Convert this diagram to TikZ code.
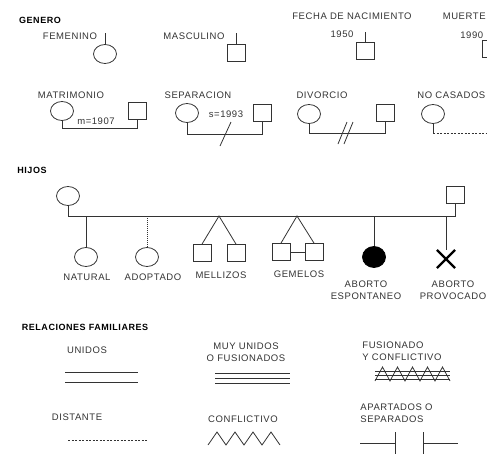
\documentclass[tikz,border=0pt]{standalone}
\usepackage{fontspec}
\setmainfont[LetterSpace=6]{Liberation Sans}
\usetikzlibrary{shapes.geometric,shapes.misc}

\begin{document}
\begin{tikzpicture}[x=1pt,y=-1pt,line width=0.8pt,
  ln/.style={draw=black!80},
  fem/.style={ellipse,draw=black!80,minimum width=23pt,minimum height=19pt,inner sep=0pt},
  masc/.style={rectangle,draw=black!80,minimum width=18pt,minimum height=17pt,inner sep=0pt},
  lbl/.style={font=\fontsize{9.5}{12}\selectfont,text=black!80,inner sep=0pt},
  hdr/.style={font=\bfseries\fontsize{9}{11}\selectfont,inner sep=0pt},
]
\useasboundingbox (0,0) rectangle (487,453);
\clip (0,0) rectangle (487,453);

% ---------- GENERO ----------
\node[hdr] (h-gen) at (40,20) {GENERO};
\node[lbl] (t-fem) at (70,36) {FEMENINO};
\node[fem] (fem) at (105,54) {};
\coordinate (fem-top) at (105,33);
\draw[ln] (fem-top) -- (fem.north);

\node[lbl] (t-masc) at (194,36) {MASCULINO};
\node[masc] (masc) at (236,53) {};
\coordinate (masc-top) at (236,33);
\draw[ln] (masc-top) -- (masc.north);

\node[lbl] (t-nac) at (352,16) {FECHA DE NACIMIENTO};
\node[lbl] (t-1950) at (342,34) {1950};
\node[masc] (nac) at (365,51) {};
\coordinate (nac-top) at (365,32);
\draw[ln] (nac-top) -- (nac.north);

\node[lbl,anchor=east] (t-muerte) at (486,16) {MUERTE};
\node[lbl,anchor=west] (t-1990) at (460,35) {1990};
\node[masc] (muerte) at (491,49) {};
\coordinate (muerte-top) at (491,32);
\draw[ln] (muerte-top) -- (muerte.north);

% ---------- PAREJAS ----------
\node[lbl] (t-mat) at (71,95) {MATRIMONIO};
\node[fem] (mat-f) at (62,111) {};
\node[masc] (mat-m) at (137,111) {};
\node[lbl] (t-m1907) at (96,121) {m=1907};
\draw[ln] (mat-f.south) -- (mat-f.south |- 0,128) -| (mat-m.south);

\node[lbl] (t-sep) at (198,95) {SEPARACION};
\node[fem] (sep-f) at (187,113) {};
\node[masc] (sep-m) at (262,113) {};
\node[lbl] (t-s1993) at (226,114) {s=1993};
\draw[ln] (sep-f.south) -- (sep-f.south |- 0,134) -| (sep-m.south);
\coordinate (sep-a) at (220,146);
\coordinate (sep-b) at (231,122);
\draw[ln] (sep-a) -- (sep-b);

\node[lbl] (t-div) at (322,95) {DIVORCIO};
\node[fem] (div-f) at (309,114) {};
\node[masc] (div-m) at (385,113) {};
\draw[ln] (div-f.south) -- (div-f.south |- 0,133) -| (div-m.south);
\coordinate (div-a1) at (338,144);
\coordinate (div-b1) at (347,122);
\coordinate (div-a2) at (344,144);
\coordinate (div-b2) at (353,122);
\draw[ln] (div-a1) -- (div-b1) (div-a2) -- (div-b2);

\node[lbl,anchor=west] (t-nocas) at (417,95) {NO CASADOS};
\node[fem] (nocas-f) at (433,114) {};
\coordinate (nocas-end) at (495,133);
\draw[ln] (nocas-f.south) -- (nocas-f.south |- nocas-end);
\draw[ln,dash pattern=on 2pt off 1.5pt] (nocas-f.south |- nocas-end) -- (nocas-end);

% ---------- HIJOS ----------
\node[hdr] (h-hijos) at (32,170) {HIJOS};
\node[fem] (par-f) at (68,196) {};
\node[masc] (par-m) at (455,195) {};
\coordinate (sib) at (0,216);
\draw[ln] (par-f.south) |- (par-m.south |- sib) -- (par-m.south);

\node[fem] (nat) at (86,257) {};
\draw[ln] (nat.north) -- (nat.north |- sib);
\node[lbl] (t-nat) at (87,277) {NATURAL};

\node[fem] (adop) at (147,257) {};
\draw[ln,dash pattern=on 1pt off 1pt] (adop.north) -- (adop.north |- sib);
\node[lbl] (t-adop) at (153,277) {ADOPTADO};

\coordinate (mel-apex) at (219,216);
\node[masc] (mel1) at (202,253) {};
\node[masc] (mel2) at (236,253) {};
\draw[ln] (mel1.north) -- (mel-apex) -- (mel2.north);
\node[lbl] (t-mel) at (221,275) {MELLIZOS};

\coordinate (gem-apex) at (297,216);
\node[masc] (gem1) at (281,252) {};
\node[masc] (gem2) at (314,252) {};
\draw[ln] (gem1.north) -- (gem-apex) -- (gem2.north);
\draw[ln] (gem1.east) -- (gem2.west);
\node[lbl] (t-gem) at (299,274) {GEMELOS};

\node[fem,fill=black,draw=black,minimum width=23pt,minimum height=21pt] (abe) at (374,257) {};
\draw[ln] (abe.north) -- (abe.north |- sib);
\node[lbl,align=center] (t-abe) at (366,290) {ABORTO\\ESPONTANEO};

\node[cross out,draw=black,line width=2.2pt,minimum size=16pt,inner sep=0pt] (abp) at (446,259) {};
\draw[ln] (abp.north) -- (abp.north |- sib);
\node[lbl,align=center] (t-abp) at (453,290) {ABORTO\\PROVOCADO};

% ---------- RELACIONES FAMILIARES ----------
\node[hdr] (h-rel) at (85,327) {RELACIONES FAMILIARES};

\node[lbl] (t-uni) at (87,350) {UNIDOS};
\draw[ln] (65,372) -- (138,372) (65,382) -- (138,382);

\node[lbl,align=center] (t-muy) at (246,352) {MUY UNIDOS\\O FUSIONADOS};
\draw[ln] (215,373) -- (290,373) (215,378) -- (290,378) (215,383) -- (290,383);

\node[lbl,align=left,anchor=west] (t-fus) at (362,351) {FUSIONADO\\Y CONFLICTIVO};
\draw[ln] (375,371) -- (450,371) (375,375) -- (450,375) (375,379) -- (450,379);
\draw[ln] (375,381) -- (382.5,367) -- (390,381) -- (397.5,367) -- (405,381) -- (412.5,367)
  -- (420,381) -- (427.5,367) -- (435,381) -- (442.5,367) -- (450,381);

\node[lbl] (t-dist) at (77,417) {DISTANTE};
\draw[ln,dash pattern=on 2pt off 1.5pt] (68,440) -- (147,440);

\node[lbl] (t-conf) at (243,419) {CONFLICTIVO};
\draw[ln] (208,445) -- (217,432) -- (226,445) -- (235,432) -- (244,445) -- (253,432)
  -- (262,445) -- (271,432) -- (280,445);

\node[lbl,align=left,anchor=west] (t-apar) at (360,413) {APARTADOS O\\SEPARADOS};
\draw[ln] (360,443) -- (395,443) (395,432) -- (395,455);
\draw[ln] (423,432) -- (423,455) (423,443) -- (458,443);
\end{tikzpicture}
\end{document}
